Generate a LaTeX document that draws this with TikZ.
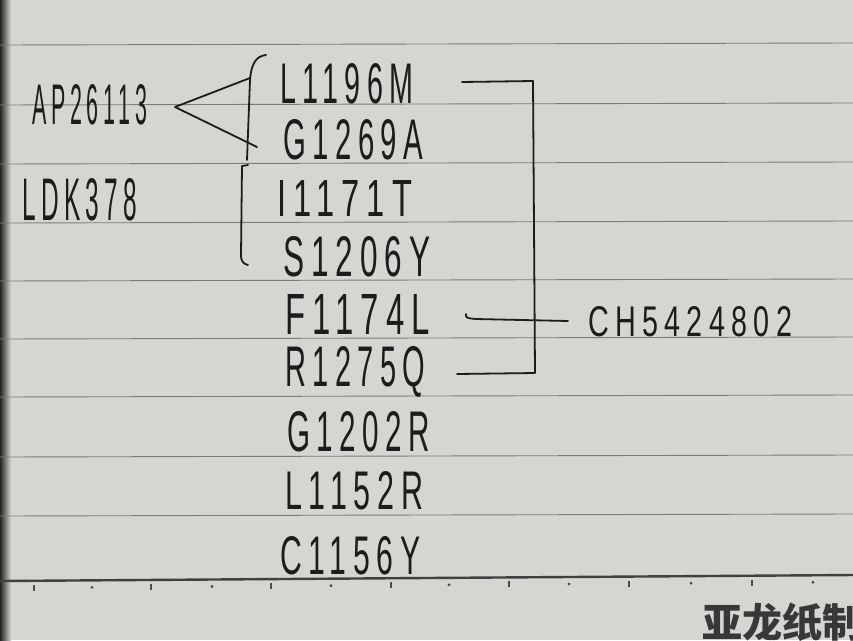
\documentclass[tikz,border=0pt]{standalone}
\usepackage{fontspec}
\setmainfont{Liberation Sans}[LetterSpace=22]
\newfontfamily\cjk{Noto Sans CJK SC}
\definecolor{paper}{HTML}{D5D5D1}
\definecolor{inkc}{HTML}{1C1C1C}
\definecolor{rulec}{HTML}{7C7C7A}
\newcommand{\hwt}[3]{\resizebox{#1pt}{#2pt}{\fontsize{30}{30}\selectfont #3}}
\begin{document}
\begin{tikzpicture}[x=1pt,y=-1pt,
  ink/.style={draw=inkc, line width=1.8pt, line cap=round, line join=round},
  rule/.style={draw=rulec, line width=0.9pt},
  hw/.style={inner sep=0pt, anchor=west, text=inkc}]
\fill[paper] (0,0) rectangle (853,640);
\useasboundingbox (0,0) rectangle (853,640);
\clip (0,0) rectangle (853,640);
\shade[left color=black!85, right color=paper] (0,0) rectangle (11,640);
% ruled lines
\foreach \yy in {44,104,163,222,280,338,396,456,515}
  \draw[rule] (0,\yy+1) -- (853,\yy-1);
\draw[draw=black!75, line width=2.4pt] (0,581) -- (853,575);
\foreach \xx in {34,151,271,391,509,629,752}
  \draw[draw=black!70, line width=1.2pt] (\xx,{585-6*\xx/853}) -- (\xx,{591-6*\xx/853});
\foreach \xx in {92,212,331,449,569,691,813}
  \fill[black!70] (\xx,{588-6*\xx/853}) circle (1.6pt);
% brand
\node[anchor=west, inner sep=0pt, text=black!78] (brand) at (702,622)
  {\fontsize{40}{40}\selectfont\cjk\bfseries 亚龙纸制};
% left labels
\node[hw] (ap)  at (32,105) {\hwt{115}{40}{AP26113}};
\node[hw] (ldk) at (22,200) {\hwt{115}{42}{LDK378}};
% mutations
\node[hw] (m1) at (280,84)  {\hwt{133}{40}{L1196M}};
\node[hw] (m2) at (283,140) {\hwt{140}{40}{G1269A}};
\node[hw] (m3) at (277,198) {\hwt{135}{36}{I1171T}};
\node[hw] (m4) at (283,257) {\hwt{147}{40}{S1206Y}};
\node[hw] (m5) at (285,314) {\hwt{145}{40}{F1174L}};
\node[hw] (m6) at (285,372) {\hwt{140}{40}{R1275Q}};
\node[hw] (m7) at (287,432) {\hwt{143}{40}{G1202R}};
\node[hw] (m8) at (285,491) {\hwt{138}{38}{L1152R}};
\node[hw] (m9) at (280,556) {\hwt{140}{38}{C1156Y}};
\node[hw] (ch) at (588,322) {\hwt{204}{30}{CH5424802}};
% wedge from AP26113
\coordinate (apex) at (175,107);
\coordinate (w1) at (250,78);
\coordinate (w2) at (257,147);
\draw[ink] (w1) -- (apex) -- (w2);
% brackets
\draw[ink] (266,55) .. controls (255,56) and (251,66) .. (250,80) -- (247,160);
\draw[ink] (248,165) -- (242,166) -- (241,255) .. controls (241,262) and (244,264) .. (248,265);
% right bracket to CH5424802
\coordinate (r1) at (462,82);
\coordinate (r6) at (457,374);
\coordinate (r5) at (466,314);
\coordinate (rc) at (568,321);
\draw[ink] (r1) -- (533,81) -- (535,373) -- (r6);
\draw[ink] (r5) .. controls (466,318) .. (476,319) -- (rc);
\end{tikzpicture}
\end{document}
